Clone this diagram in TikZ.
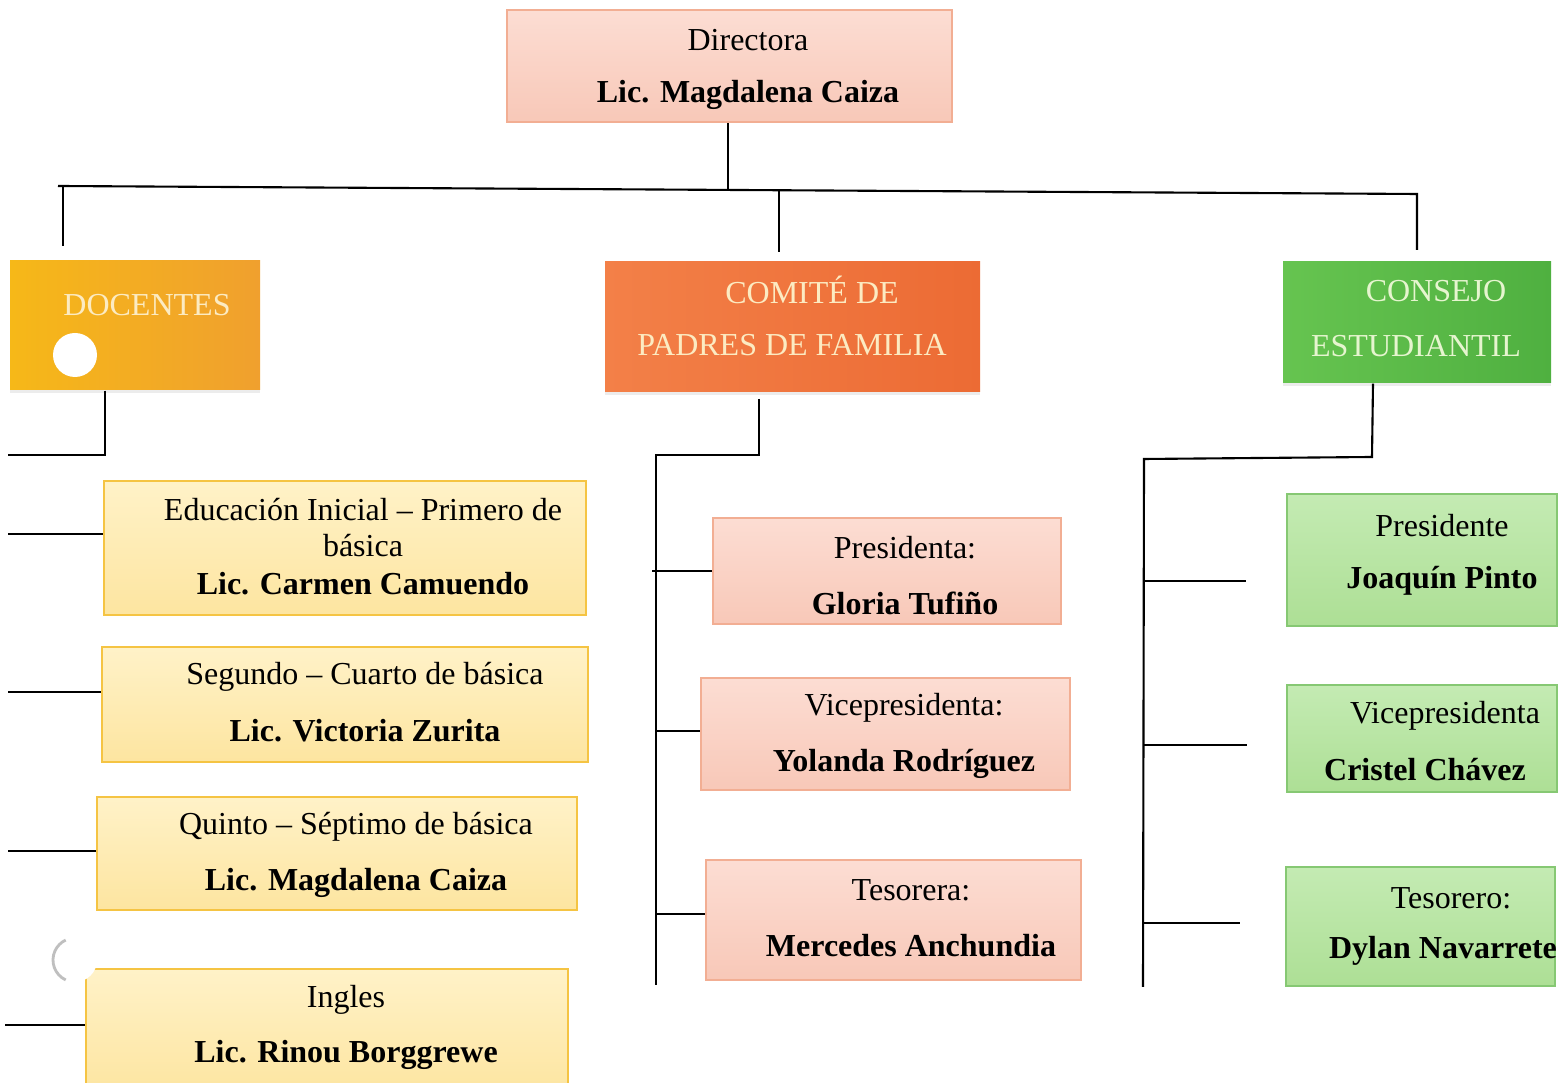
\documentclass[tikz,border=0pt]{standalone}
\usepackage{fontspec}
\setmainfont{Liberation Serif}
\usepackage{xcolor}
\usetikzlibrary{fit,shadows}

\definecolor{pinkfill}{HTML}{FCDDD3}
\definecolor{pinkdeep}{HTML}{F8C8B8}
\definecolor{pinkline}{HTML}{F2AE93}
\definecolor{yelfill}{HTML}{FFF2C8}
\definecolor{yeldeep}{HTML}{FDE5A0}
\definecolor{yelline}{HTML}{F5C443}
\definecolor{grnfill}{HTML}{C4EBB3}
\definecolor{grndeep}{HTML}{ADDF95}
\definecolor{grnline}{HTML}{86C873}
\definecolor{docA}{HTML}{F6B818}
\definecolor{docB}{HTML}{F0A02E}
\definecolor{comA}{HTML}{F38048}
\definecolor{comB}{HTML}{EC6B34}
\definecolor{conA}{HTML}{66C450}
\definecolor{conB}{HTML}{4FB040}
\definecolor{headtxt}{HTML}{FCEBC2}
\definecolor{headgrn}{HTML}{E6F5CF}

\begin{document}
\begin{tikzpicture}[x=0.01cm,y=-0.01cm,
    box/.style={inner sep=0pt,line width=0.6pt},
    pinkbox/.style={box,draw=pinkline,top color=pinkfill,bottom color=pinkdeep},
    yelbox/.style={box,draw=yelline,top color=yelfill,bottom color=yeldeep},
    grnbox/.style={box,draw=grnline,top color=grnfill,bottom color=grndeep},
    headbox/.style={inner sep=0pt,drop shadow={shadow xshift=0pt,shadow yshift=-0.8pt,opacity=0.15}},
    lbl/.style={inner sep=0pt,font=\fontsize{9.1}{11}\selectfont},
    nme/.style={lbl,font=\fontsize{9.1}{11}\selectfont\bfseries},
    head/.style={lbl,text=headtxt},
    line/.style={line width=0.6pt,black}]
\clip (0,0) rectangle (1560,1083);
\fill[white] (0,0) rectangle (1560,1083);

\node[pinkbox,fit={(507,10) (952,122)}] (dir) {};
\node[lbl] (dirA) at (748,40) {Directora};
\node[nme] (dirB) at (748,95) {Lic. Magdalena Caiza};

\node[headbox,left color=docA,right color=docB,fit={(10,261) (260,390)}] (doc) {};
\node[head] (docA) at (147,305) {DOCENTES};
\node[headbox,left color=comA,right color=comB,fit={(605,262) (980,392)}] (com) {};
\node[head] (comA) at (812,290) {COMITÉ DE};
\node[head] (comB) at (792,345) {PADRES DE FAMILIA};
\node[headbox,left color=conA,right color=conB,fit={(1283,262) (1551,383)}] (con) {};
\node[head,text=headgrn] (conA) at (1436,291) {CONSEJO};
\node[head,text=headgrn] (conB) at (1416,346) {ESTUDIANTIL};

\node[yelbox,fit={(104,481) (586,615)}] (doc1) {};
\node[lbl] (doc1A) at (363,510) {Educación Inicial – Primero de};
\node[lbl] (doc1B) at (363,546) {básica};
\node[nme] (doc1C) at (363,584) {Lic. Carmen Camuendo};
\node[yelbox,fit={(102,647) (588,762)}] (doc2) {};
\node[lbl] (doc2A) at (365,677) {Segundo – Cuarto de básica};
\node[nme] (doc2B) at (365,731) {Lic. Victoria Zurita};
\node[yelbox,fit={(97,797) (577,910)}] (doc3) {};
\node[lbl] (doc3A) at (356,827) {Quinto – Séptimo de básica};
\node[nme] (doc3B) at (356,883) {Lic. Magdalena Caiza};
\node[yelbox,fit={(86,969) (568,1095)}] (doc4) {};
\node[lbl] (doc4A) at (346,1000) {Ingles};
\node[nme] (doc4B) at (346,1055) {Lic. Rinou Borggrewe};

\node[pinkbox,fit={(713,518) (1061,624)}] (com1) {};
\node[lbl] (com1A) at (905,548) {Presidenta:};
\node[nme] (com1B) at (905,603) {Gloria Tufiño};
\node[pinkbox,fit={(701,678) (1070,790)}] (com2) {};
\node[lbl] (com2A) at (904,708) {Vicepresidenta:};
\node[nme] (com2B) at (904,764) {Yolanda Rodríguez};
\node[pinkbox,fit={(706,860) (1081,980)}] (com3) {};
\node[lbl] (com3A) at (911,890) {Tesorera:};
\node[nme] (com3B) at (911,946) {Mercedes Anchundia};

\node[grnbox,fit={(1287,494) (1557,626)}] (con1) {};
\node[lbl] (con1A) at (1442,526) {Presidente};
\node[nme] (con1B) at (1442,581) {Joaquín Pinto};
\node[grnbox,fit={(1287,685) (1557,792)}] (con2) {};
\node[lbl] (con2A) at (1445,716) {Vicepresidenta};
\node[nme] (con2B) at (1425,770) {Cristel Chávez};
\node[grnbox,fit={(1286,867) (1555,986)}] (con3) {};
\node[lbl] (con3A) at (1451,898) {Tesorero:};
\node[nme] (con3B) at (1443,951) {Dylan Navarrete};

\fill[white] (75,355) circle (22);
\fill[white] (75,960) circle (22);
\draw[black!25,line width=0.8pt] (75,960) ++(115:22) arc (115:245:22);

\coordinate (busL) at (58,186);
\coordinate (busR) at (1417,194);
\draw[line] (dir.south -| 728,0) -- (728,189);
\draw[line] (busL) -- (busR) -- (1417,250);
\draw[line] (63,186) -- (63,246);
\draw[line] (779,191) -- (779,252);

\coordinate (docT) at (8,455);
\draw[line] (doc.south -| 105,0) -- (105,455) -- (docT);
\draw[line] (8,534) -- (doc1.west |- 8,534);
\draw[line] (8,692) -- (doc2.west |- 8,692);
\draw[line] (8,851) -- (doc3.west |- 8,851);
\draw[line] (5,1025) -- (doc4.west |- 5,1025);

\coordinate (comT) at (656,455);
\draw[line] (759,399) -- (759,455) -- (comT) -- (656,985);
\draw[line] (652,571) -- (com1.west |- 652,571);
\draw[line] (656,731) -- (com2.west |- 656,731);
\draw[line] (656,914) -- (com3.west |- 656,914);

\coordinate (conT) at (1144,459);
\draw[line] (con.south -| 1373,0) -- (1372,457) -- (conT) -- (1143,987);
\draw[line] (1144,581) -- (1246,581);
\draw[line] (1144,745) -- (1247,745);
\draw[line] (1143,923) -- (1240,923);
\end{tikzpicture}
\end{document}
